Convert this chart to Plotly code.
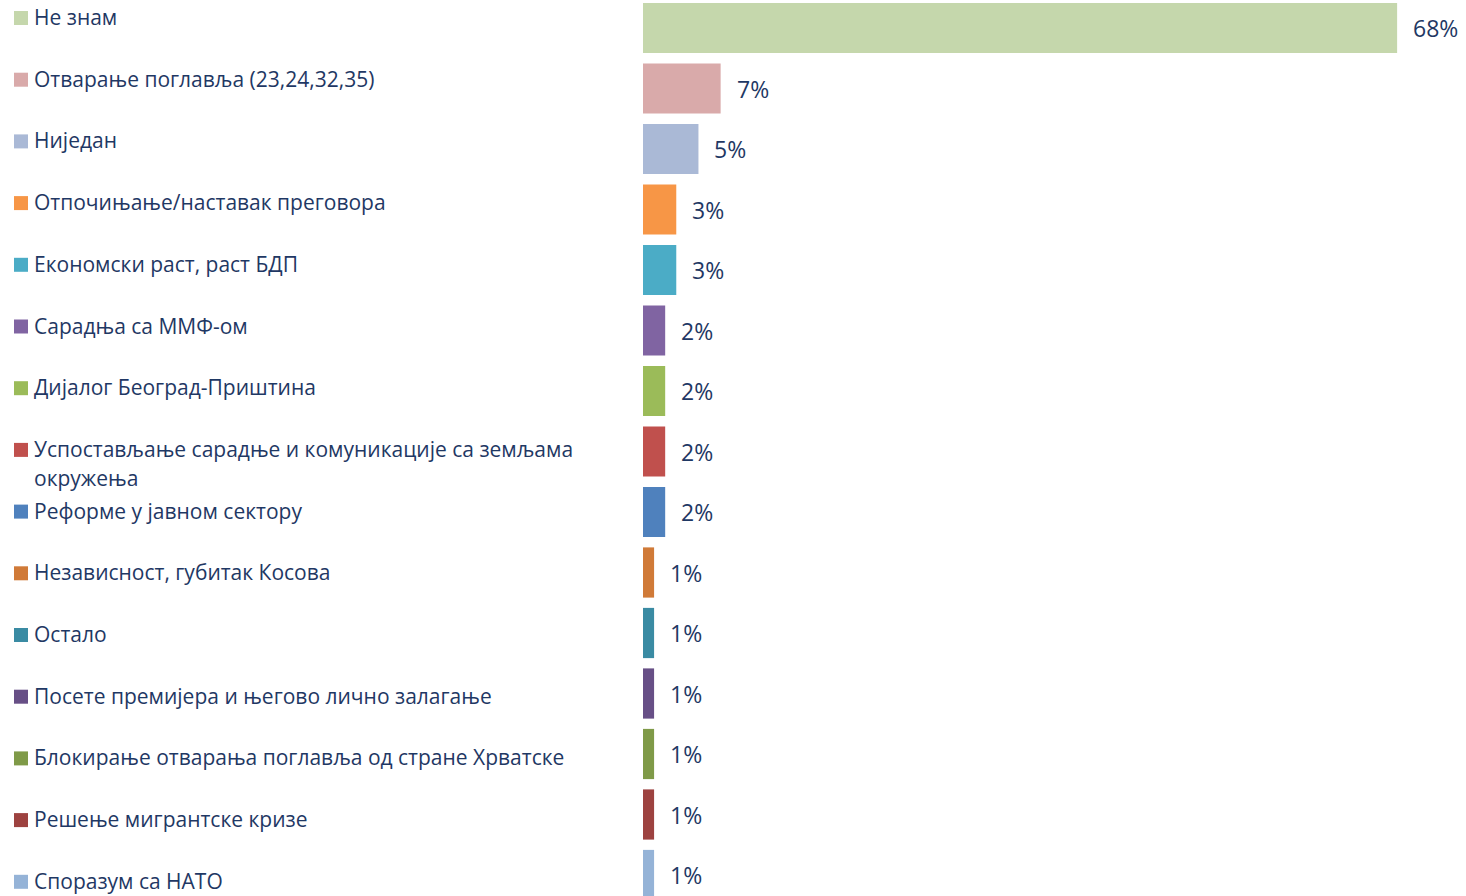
import plotly.graph_objects as go

categories = [
    "Не знам",
    "Отварање поглавља (23,24,32,35)",
    "Ниједан",
    "Отпочињање/наставак преговора",
    "Економски раст, раст БДП",
    "Сарадња са ММФ-ом",
    "Дијалог Београд-Приштина",
    "Успостављање сарадње и комуникације са земљама|окружења",
    "Реформе у јавном сектору",
    "Независност, губитак Косова",
    "Остало",
    "Посете премијера и његово лично залагање",
    "Блокирање отварања поглавља од стране Хрватске",
    "Решење мигрантске кризе",
    "Споразум са НАТО",
]
values = [68, 7, 5, 3, 3, 2, 2, 2, 2, 1, 1, 1, 1, 1, 1]
value_labels = ["68%", "7%", "5%", "3%", "3%", "2%", "2%", "2%", "2%",
                "1%", "1%", "1%", "1%", "1%", "1%"]
colors = ["#C5D7AC", "#D9AAAA", "#AAB9D6", "#F79646", "#4BACC6", "#8064A2",
          "#9BBB59", "#C0504D", "#4F81BD", "#D07A38", "#3A8BA3", "#674F86",
          "#7F9A48", "#9D4240", "#95B3D7"]

TEXT_COLOR = "#1F3864"
FONT = "Open Sans"
W, H = 1466, 896

idx = list(range(len(categories)))

fig = go.Figure()
fig.add_trace(go.Bar(
    x=values, y=idx, orientation="h",
    marker=dict(color=colors, line=dict(width=0)),
    width=0.83, xaxis="x", yaxis="y", showlegend=False, hoverinfo="skip",
))

# legend markers
fig.add_trace(go.Scatter(
    x=[21] * len(categories), y=idx, mode="markers",
    marker=dict(symbol="square", size=14, color=colors, line=dict(width=0)),
    xaxis="x2", yaxis="y2", showlegend=False, hoverinfo="skip",
))

annotations = []
for i, (cat, v, lab) in enumerate(zip(categories, values, value_labels)):
    lines = cat.split("|")
    for k, line in enumerate(lines):
        annotations.append(dict(
            x=32, y=i, xref="x2", yref="y2", xanchor="left", yanchor="middle",
            text=line, showarrow=False, yshift=1 - 29 * k,
            font=dict(family=FONT, size=21, color=TEXT_COLOR),
        ))
    annotations.append(dict(
        x=v, y=i, xref="x", yref="y", xanchor="left", yanchor="middle",
        text=lab, showarrow=False, xshift=14,
        font=dict(family=FONT, size=23, color=TEXT_COLOR),
    ))

bar_px = 60.5
leg_px = 61.7
fig.update_layout(
    width=W, height=H,
    margin=dict(l=0, r=0, t=0, b=0),
    paper_bgcolor="white", plot_bgcolor="white",
    xaxis=dict(domain=[643 / W, 1], range=[0, (W - 643) / 11.09], visible=False, fixedrange=True),
    yaxis=dict(domain=[0, 1], range=[(H - 28) / bar_px, -28 / bar_px], visible=False,
               anchor="x", fixedrange=True),
    xaxis2=dict(domain=[0, 630 / W], range=[0, 630], visible=False, anchor="y2", fixedrange=True),
    yaxis2=dict(domain=[0, 1], range=[(H - 18) / leg_px, -18 / leg_px], visible=False,
                anchor="x2", fixedrange=True),
    annotations=annotations,
    showlegend=False,
)

fig.write_html("out.html", config={"displayModeBar": False},
               post_script="document.body.style.margin='0';document.body.style.overflow='hidden';")
